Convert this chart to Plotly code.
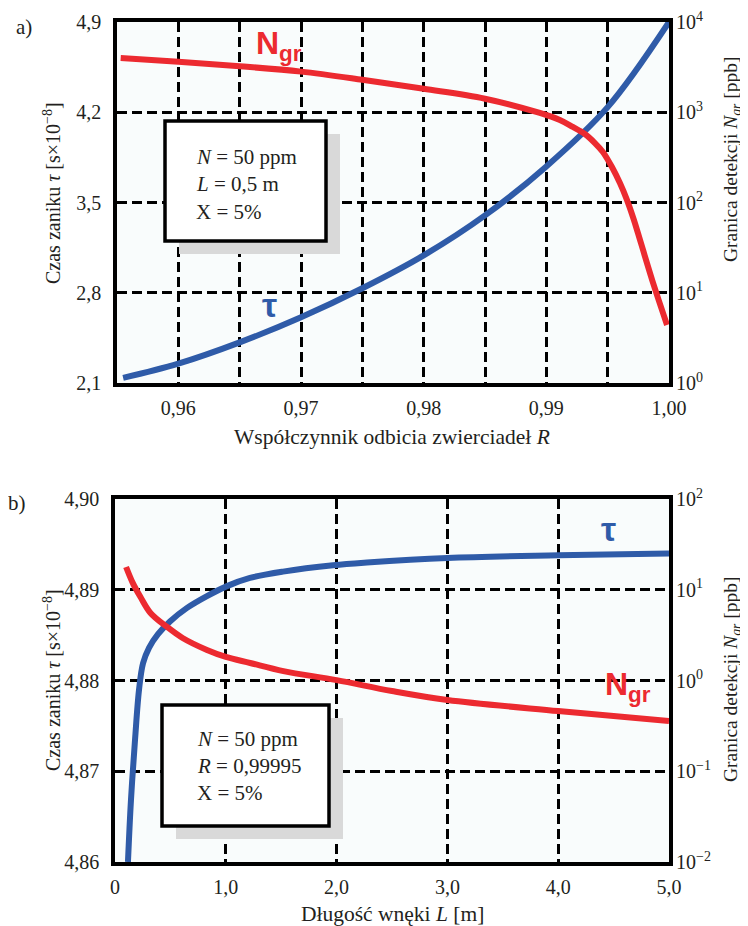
import plotly.graph_objects as go

# page body has an 8px margin, so the figure is 8px smaller and offset
OFF = 8
W, H = 748 - OFF, 926 - OFF

# ---------------- data ----------------
# panel a) : reflectivity R
R_tau = [0.9555, 0.96, 0.965, 0.97, 0.975, 0.98, 0.985, 0.99, 0.995, 1.0]
tau_a = [2.14, 2.25, 2.415, 2.61, 2.835, 3.09, 3.40, 3.78, 4.24, 4.90]

R_ngr = [0.9553, 0.96, 0.965, 0.97, 0.975, 0.98, 0.985, 0.98947, 0.9911, 0.99216,
         0.99314, 0.99396, 0.99461, 0.99535, 0.996, 0.99657, 0.99714, 0.99771,
         0.99878, 0.99984]
ngr_a = [3981, 3631, 3236, 2818, 2291, 1820, 1413, 982, 820, 687,
         574, 456, 363, 247, 164, 107, 64, 35.6,
         11.9, 4.4]

# panel b) : cavity length L
L_tau = [0.117, 0.144, 0.181, 0.217, 0.253, 0.307, 0.388, 0.496, 0.65, 0.83,
         1.011, 1.218, 1.516, 1.968, 2.274, 3.0, 4.0, 5.0]
tau_b = [4.8600, 4.8668, 4.8735, 4.8790, 4.8819, 4.8836, 4.8851, 4.8865, 4.8880, 4.8893,
         4.8904, 4.8913, 4.8920, 4.8927, 4.8930, 4.8935, 4.8938, 4.8940]

L_ngr = [0.1, 0.16, 0.23, 0.32, 0.47, 0.61, 0.83, 1.0, 1.22, 1.52, 2.0, 2.5, 3.0, 4.0, 5.0]
ngr_b = [17.8, 11.9, 8.3, 5.55, 3.89, 2.94, 2.17, 1.82, 1.56, 1.27, 1.01, 0.766, 0.61, 0.461, 0.358]

# ticks
xa_vals = [0.96, 0.965, 0.97, 0.975, 0.98, 0.985, 0.99, 0.995, 1.0]
xa_text = ["0,96", "", "0,97", "", "0,98", "", "0,99", "", "1,00"]
ya_vals = [2.1, 2.8, 3.5, 4.2, 4.9]
ya_text = ["2,1", "2,8", "3,5", "4,2", "4,9"]
ya2_vals = [1, 10, 100, 1000, 10000]
ya2_text = ["10<sup>0</sup>", "10<sup>1</sup>", "10<sup>2</sup>", "10<sup>3</sup>", "10<sup>4</sup>"]

xb_vals = [0, 1, 2, 3, 4, 5]
xb_text = ["0", "1,0", "2,0", "3,0", "4,0", "5,0"]
yb_vals = [4.86, 4.87, 4.88, 4.89, 4.90]
yb_text = ["4,86", "4,87", "4,88", "4,89", "4,90"]
yb2_vals = [0.01, 0.1, 1, 10, 100]
yb2_text = ["10<sup>\u22122</sup>", "10<sup>\u22121</sup>", "10<sup>0</sup>", "10<sup>1</sup>", "10<sup>2</sup>"]

RED = "#ec2a30"
BLUE = "#2f5ba8"
TXT = "#231f20"
SERIF = "Liberation Serif"
SANS = "Liberation Sans"


def px(x):
    return (x - OFF) / W


def py(y):
    return 1 - (y - OFF) / H


fig = go.Figure()
line_style = dict(width=6, shape="spline", smoothing=1.0)
fig.add_trace(go.Scatter(x=R_ngr, y=ngr_a, xaxis="x", yaxis="y2", mode="lines",
                         line=dict(color=RED, **line_style)))
fig.add_trace(go.Scatter(x=R_tau, y=tau_a, xaxis="x", yaxis="y", mode="lines",
                         line=dict(color=BLUE, **line_style)))
fig.add_trace(go.Scatter(x=L_ngr, y=ngr_b, xaxis="x2", yaxis="y4", mode="lines",
                         line=dict(color=RED, **line_style)))
fig.add_trace(go.Scatter(x=L_tau, y=tau_b, xaxis="x2", yaxis="y3", mode="lines",
                         line=dict(color=BLUE, **line_style)))

tickfont = dict(family=SERIF, size=20, color=TXT)
grid = dict(showgrid=True, gridcolor="black", gridwidth=2.5, griddash="10px,5px",
            zeroline=False, showline=True, linecolor="black", linewidth=3.5, mirror=True,
            tickfont=tickfont, ticks="", automargin=False)
right = dict(showgrid=False, zeroline=False, showline=False, tickfont=tickfont,
             ticks="", ticklabelstandoff=6, automargin=False)

fig.update_layout(
    width=W, height=H, margin=dict(l=0, r=0, t=0, b=0, autoexpand=False),
    paper_bgcolor="white", plot_bgcolor="#f9fcfc", showlegend=False,
    xaxis=dict(domain=[px(117), px(669)], anchor="y", range=[0.955, 1.0],
               tickvals=xa_vals, ticktext=xa_text, ticklabelstandoff=4, **grid),
    yaxis=dict(domain=[py(383), py(22)], anchor="x", range=[2.1, 4.9],
               tickvals=ya_vals, ticktext=ya_text, ticklabelstandoff=8, **grid),
    yaxis2=dict(overlaying="y", anchor="x", side="right", type="log", range=[0, 4],
                tickvals=ya2_vals, ticktext=ya2_text, **right),
    xaxis2=dict(domain=[px(115), px(669)], anchor="y3", range=[0, 5],
                tickvals=xb_vals, ticktext=xb_text, ticklabelstandoff=4, **grid),
    yaxis3=dict(domain=[py(862), py(499)], anchor="x2", range=[4.86, 4.90],
                tickvals=yb_vals, ticktext=yb_text, ticklabelstandoff=8, **grid),
    yaxis4=dict(overlaying="y3", anchor="x2", side="right", type="log", range=[-2, 2],
                tickvals=yb2_vals, ticktext=yb2_text, **right),
)

shapes = []
# text boxes with shadow
for (x0, y0, x1, y1) in [(165, 121, 326, 241), (162, 705, 329, 826)]:
    shapes.append(dict(type="rect", xref="paper", yref="paper",
                       x0=px(x0 + 14), x1=px(x1 + 14), y0=py(y0 + 13), y1=py(y1 + 13),
                       fillcolor="#d9d9d9", line=dict(width=0), layer="above"))
    shapes.append(dict(type="rect", xref="paper", yref="paper",
                       x0=px(x0), x1=px(x1), y0=py(y0), y1=py(y1),
                       fillcolor="white", line=dict(color="black", width=3.5), layer="above"))
fig.update_layout(shapes=shapes)

ann = []


def add(text, x, y, size=20, family=SERIF, color=TXT, angle=0, xanchor="center"):
    ann.append(dict(text=text, x=px(x), y=py(y), xref="paper", yref="paper",
                    showarrow=False, xanchor=xanchor, yanchor="middle", textangle=angle,
                    font=dict(family=family, size=size, color=color)))


add("a)", 24, 27, size=21)
add("b)", 17, 503, size=21)

# axis titles
add("Czas zaniku <i>\u03c4</i> [s\u00d710<sup>\u22128</sup>]", 52, 193, size=20, angle=-90)
add("Granica detekcji <i>N<sub>gr</sub></i> [ppb]", 732, 160, size=19.5, angle=-90)
add("Wsp\u00f3\u0142czynnik odbicia zwierciade\u0142 <i>R</i>", 392, 437, size=21.5)
add("Czas zaniku <i>\u03c4</i> [s\u00d710<sup>\u22128</sup>]", 52, 680, size=20, angle=-90)
add("Granica detekcji <i>N<sub>gr</sub></i> [ppb]", 732, 680, size=19.5, angle=-90)
add("D\u0142ugo\u015b\u0107 wn\u0119ki <i>L</i> [m]", 392, 914, size=21.5)

# curve labels
add("<b>N<sub>gr</sub></b>", 279, 45, size=32, family=SANS, color=RED)
add("<b>\u03c4</b>", 269, 305, size=34, family=SANS, color=BLUE)
add("<b>N<sub>gr</sub></b>", 628, 686, size=32, family=SANS, color=RED)
add("<b>\u03c4</b>", 608, 529, size=34, family=SANS, color=BLUE)

# box texts
add("<i>N</i> = 50 ppm", 194, 157, size=21, xanchor="left")
add("<i>L</i> = 0,5 m", 194, 184, size=21, xanchor="left")
add("X = 5%", 194, 212, size=21, xanchor="left")
add("<i>N</i> = 50 ppm", 195, 739, size=21, xanchor="left")
add("<i>R</i> = 0,99995", 195, 766, size=21, xanchor="left")
add("X = 5%", 195, 793, size=21, xanchor="left")

fig.update_layout(annotations=ann)
fig.write_html("out.html")
